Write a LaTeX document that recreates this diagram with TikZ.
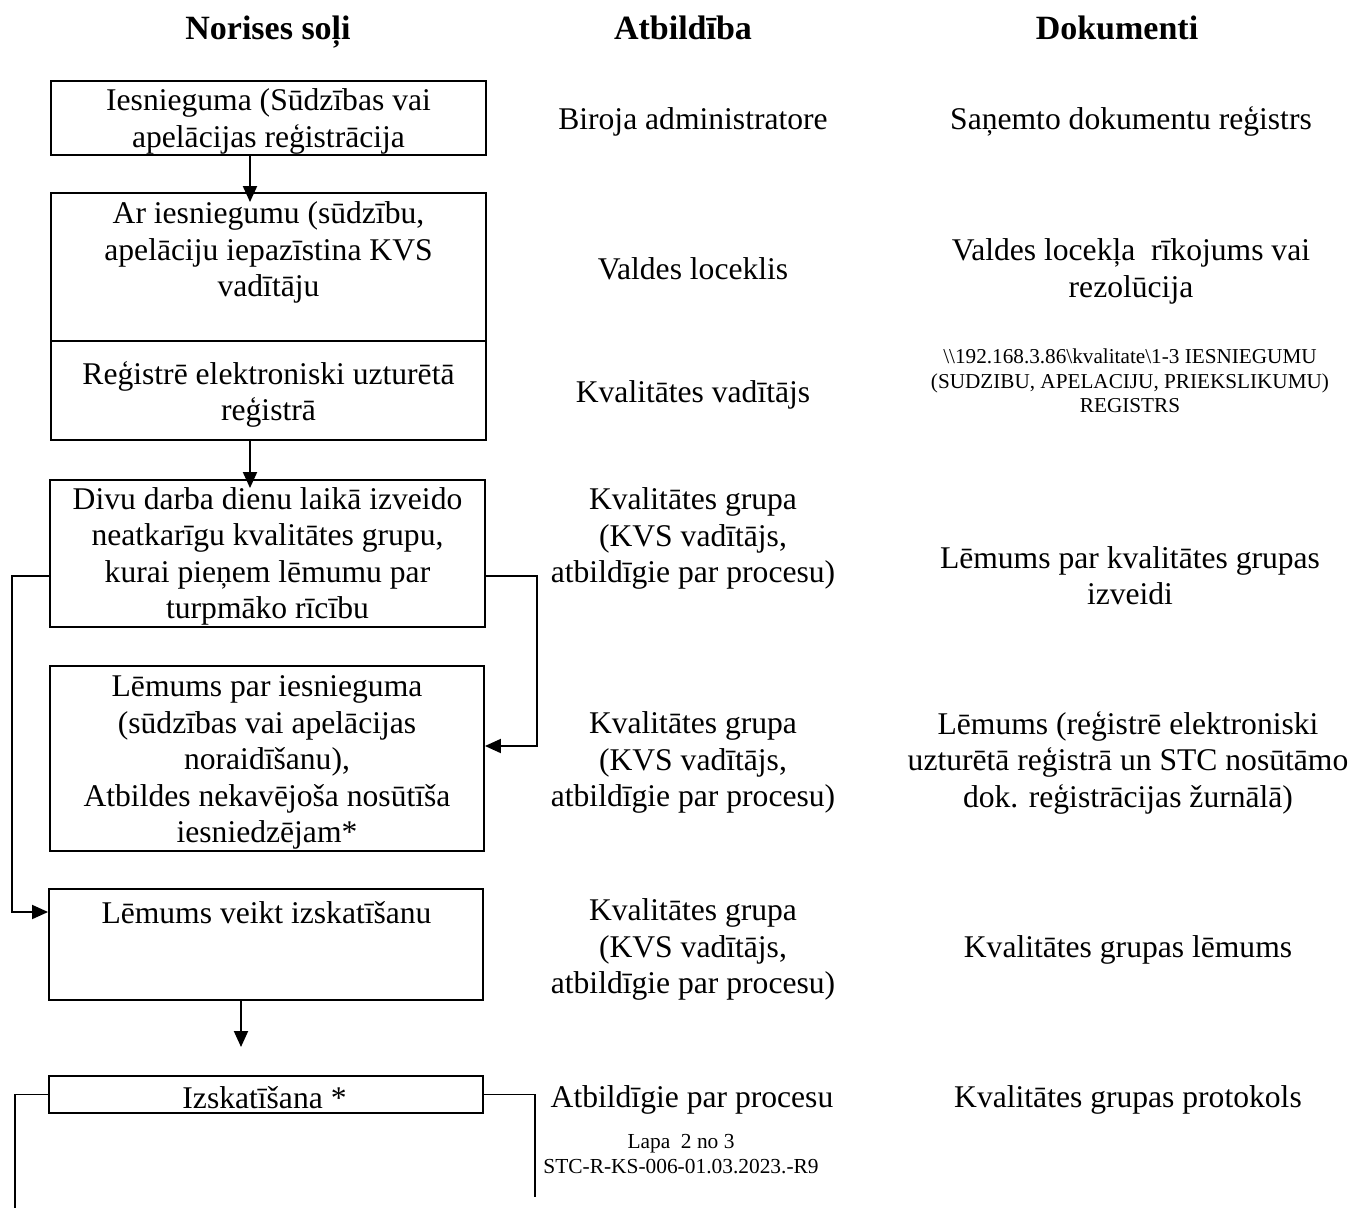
\documentclass[tikz,border=0pt]{standalone}
\usepackage{fontspec}
\setmainfont{Liberation Serif}
\usetikzlibrary{arrows.meta}
\begin{document}
\begin{tikzpicture}[x=1pt,y=-1pt,
  box/.style={draw, line width=1.9pt, inner sep=0pt},
  txt/.style={align=center, inner sep=0pt, yshift=-2.5pt, font=\fontsize{31.6}{36.5}\selectfont},
  hdr/.style={inner sep=0pt, anchor=base, font=\bfseries\fontsize{34}{40}\selectfont},
  small/.style={align=center, inner sep=0pt, font=\fontsize{21.2}{24.5}\selectfont},
  ln/.style={line width=1.9pt},
  arr/.style={line width=1.9pt, -{Triangle[length=16pt,width=14pt]}}]
\useasboundingbox (0,0) rectangle (1353,1208);
% headers
\node[hdr] (h1) at (268,39.5) {Norises soļi};
\node[hdr] (h2) at (683,39.5) {Atbildība};
\node[hdr] (h3) at (1117,39.5) {Dokumenti};
% boxes
\node[box, minimum width=435, minimum height=74]  (b1) at (268.5,118) {};
\node[box, minimum width=435, minimum height=148] (b2) at (268.5,267) {};
\node[box, minimum width=435, minimum height=99]  (b3) at (268.5,390.5) {};
\node[box, minimum width=435, minimum height=147] (b4) at (267.5,553.5) {};
\node[box, minimum width=434, minimum height=185] (b5) at (267,758.5) {};
\node[box, minimum width=434, minimum height=111] (b6) at (266,944.5) {};
\node[box, minimum width=434, minimum height=37]  (b7) at (266,1094.5) {};
% box texts
\node[txt] (t1) at (268.5,119) {Iesnieguma (Sūdzības vai\\apelācijas reģistrācija};
\node[txt] (t2) at (268.5,250) {Ar iesniegumu (sūdzību,\\apelāciju iepazīstina KVS\\vadītāju};
\node[txt] (t3) at (268.5,392) {Reģistrē elektroniski uzturētā\\reģistrā};
\node[txt] (t4) at (267.5,554) {Divu darba dienu laikā izveido\\neatkarīgu kvalitātes grupu,\\kurai pieņem lēmumu par\\turpmāko rīcību};
\node[txt] (t5) at (267,760) {Lēmums par iesnieguma\\(sūdzības vai apelācijas\\noraidīšanu),\\Atbildes nekavējoša nosūtīša\\iesniedzējam*};
\node[txt] (t6) at (266.5,910) {Lēmums veikt izskatīšanu};
\node[txt] (t7) at (264.5,1095) {Izskatīšana *};
% middle column
\node[txt] (m1) at (693,119) {Biroja administratore};
\node[txt] (m2) at (693,266) {Valdes loceklis};
\node[txt] (m3) at (693,392) {Kvalitātes vadītājs};
\node[txt] (m4) at (693,536) {Kvalitātes grupa\\(KVS vadītājs,\\atbildīgie par procesu)};
\node[txt] (m5) at (693,760) {Kvalitātes grupa\\(KVS vadītājs,\\atbildīgie par procesu)};
\node[txt] (m6) at (693,947) {Kvalitātes grupa\\(KVS vadītājs,\\atbildīgie par procesu)};
\node[txt] (m7) at (692,1097) {Atbildīgie par procesu};
\node[small, font=\fontsize{21.4}{24.5}\selectfont] (m8) at (681,1154) {Lapa~~2 no 3\\STC-R-KS-006-01.03.2023.-R9};
% right column
\node[txt] (r1) at (1131,119) {Saņemto dokumentu reģistrs};
\node[txt] (r2) at (1131,269) {Valdes locekļa~ rīkojums vai\\rezolūcija};
\node[small] (r3) at (1130,381) {\textbackslash\textbackslash 192.168.3.86\textbackslash kvalitate\textbackslash 1-3 IESNIEGUMU\\(SUDZIBU, APELACIJU, PRIEKSLIKUMU)\\REGISTRS};
\node[txt] (r4) at (1130,573) {Lēmums par kvalitātes grupas\\izveidi};
\node[txt] (r5) at (1128,760) {Lēmums (reģistrē elektroniski\\uzturētā reģistrā un STC nosūtāmo\\dok. reģistrācijas žurnālā)};
\node[txt] (r6) at (1128,947) {Kvalitātes grupas lēmums};
\node[txt] (r7) at (1128,1097) {Kvalitātes grupas protokols};
% helper coordinates
\coordinate (xa) at (250,0);
\coordinate (xb) at (241,0);
\coordinate (yL) at (0,576);
\coordinate (yR) at (0,746);
\coordinate (y6) at (0,912);
\coordinate (lx) at (12,0);
\coordinate (rx) at (537,0);
\coordinate (e67) at (241,1047);
\coordinate (bl) at (15,1208);
\coordinate (br) at (535,1197);
% connectors
\draw[arr] (b1.south -| xa) -- ([yshift=-10pt]b2.north -| xa);
\draw[arr] (b3.south -| xa) -- ([yshift=-9pt]b4.north -| xa);
\draw[arr] (b4.west |- yL) -- (lx |- yL) -- (lx |- y6) -- (b6.west |- y6);
\draw[arr] (b4.east |- yL) -- (rx |- yL) -- (rx |- yR) -- (b5.east |- yR);
\draw[arr] (b6.south -| xb) -- (e67);
\draw[ln] (b7.west) -- (bl |- b7.west) -- (bl);
\draw[ln] (b7.east) -- (br |- b7.east) -- (br);
\end{tikzpicture}
\end{document}
